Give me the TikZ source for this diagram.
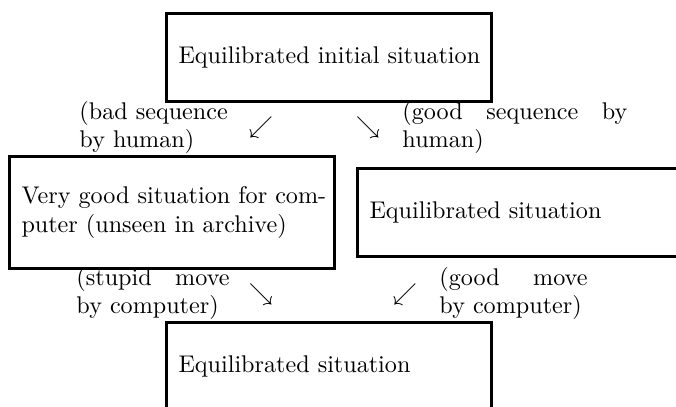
\documentclass[tikz,border=0pt]{standalone}
\begin{document}
\begin{tikzpicture}[x=0.4143pt,y=-0.4143pt,
  box/.style={draw, line width=1.25pt, rectangle, anchor=north west,
    inner xsep=4.97pt, inner ysep=0pt, text width=124.7pt, align=left},
  lbl/.style={anchor=base west, inner sep=0pt, align=left},
  arr/.style={inner sep=0pt}]
\useasboundingbox (0,0) rectangle (676,406);
\clip (0,0) rectangle (676,406);
\node[box, minimum height=36.46pt] (top) at (165,12) {\mbox{Equilibrated initial situation}};
\node[box, minimum height=46.4pt] (left) at (8,155) {\mbox{Very good situation for com-}\\\mbox{puter (unseen in archive)}};
\node[box, minimum height=36.46pt] (right) at (356,167) {\mbox{Equilibrated situation}};
\node[box, minimum height=36.46pt] (bottom) at (165,321) {\mbox{Equilibrated situation}};
\node[lbl, text width=62.1pt] (lbad) at (79,119) {\mbox{(bad sequence}\\by human)};
\node[lbl, text width=93.2pt] (lgood) at (402,119) {(good\hfill sequence\hfill by\\human)};
\node[lbl, text width=63.4pt] (lstupid) at (76,285) {(stupid\hfill move\\by computer)};
\node[lbl, text width=61.3pt] (lgoodm) at (439,285) {(good\hfill move\\by computer)};
\node[arr] (a1) at (261,127) {$\swarrow$};
\node[arr] (a2) at (368,127) {$\searrow$};
\node[arr] (a3) at (261,294) {$\searrow$};
\node[arr] (a4) at (405,294) {$\swarrow$};
\end{tikzpicture}
\end{document}
